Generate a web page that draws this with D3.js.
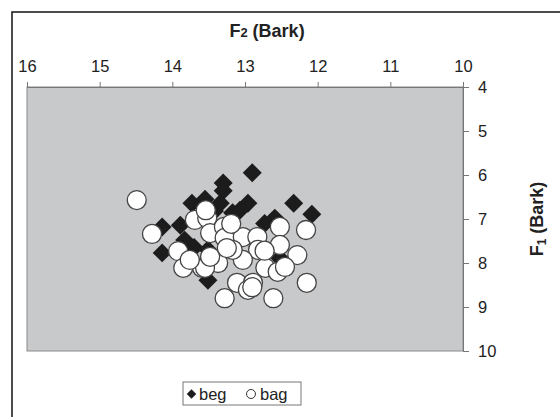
<!DOCTYPE html>
<html>
<head>
<meta charset="utf-8">
<script src="https://cdn.jsdelivr.net/npm/d3@7"></script>
<style>
  body { margin: 0; background: #fff; }
  svg text { font-family: "Liberation Sans", Arial, sans-serif; fill: #222; }
</style>
</head>
<body>
<div id="chart"></div>
<script>
// F2 (Bark), F1 (Bark)
var begF2 = [12.90, 13.30, 13.30, 12.96, 12.33, 12.08, 12.59, 13.34, 13.73, 13.89,
             14.14, 14.14, 13.51, 13.51, 12.52, 13.17, 13.83, 13.07, 13.55, 13.42, 12.73, 13.70];
var begF1 = [5.95, 6.18, 6.36, 6.64, 6.64, 6.89, 6.98, 6.64, 6.64, 7.14,
             7.18, 7.77, 7.70, 8.39, 7.89, 6.86, 7.48, 6.80, 6.55, 6.82, 7.10, 7.65];

var bagF2 = [14.49, 14.28, 13.92, 13.85, 13.59, 13.69, 13.52, 13.54, 13.48, 13.29,
             13.28, 13.03, 12.83, 12.52, 12.16, 12.52, 12.82, 12.28, 13.03, 13.37,
             13.55, 12.72, 12.55, 12.45, 13.11, 12.89, 12.96, 13.28, 12.61, 12.15,
             13.17, 13.48, 13.76, 13.19, 13.25, 12.73, 12.90];
var bagF1 = [6.57, 7.34, 7.73, 8.11, 8.11, 7.02, 6.98, 6.80, 7.32, 7.18,
             7.43, 7.41, 7.41, 7.18, 7.25, 7.59, 7.70, 7.82, 7.93, 8.00,
             8.11, 8.11, 8.20, 8.09, 8.45, 8.45, 8.61, 8.80, 8.80, 8.45,
             7.70, 7.86, 7.93, 7.11, 7.66, 7.72, 8.55];

var f2Ticks = [16, 15, 14, 13, 12, 11, 10];
var f1Ticks = [4, 5, 6, 7, 8, 9, 10];
var legendItems = [["beg", "diamond"], ["bag", "circle"]];

var W = 560, H = 417;
var plot = {left: 27, right: 463, top: 87, bottom: 351};

var svg = d3.select("#chart").append("svg")
  .attr("width", W)
  .attr("height", H);

// outer frame (runs off the right and bottom)
svg.append("rect")
  .attr("x", 12).attr("y", 12)
  .attr("width", 600).attr("height", 500)
  .attr("fill", "none")
  .attr("stroke", "#111")
  .attr("stroke-width", 1.5);

var x = d3.scaleLinear().domain([16, 10]).range([plot.left, plot.right]);
var y = d3.scaleLinear().domain([4, 10]).range([plot.top, plot.bottom]);

svg.append("rect")
  .attr("x", plot.left).attr("y", plot.top)
  .attr("width", plot.right - plot.left)
  .attr("height", plot.bottom - plot.top)
  .attr("fill", "#c8c9cb")
  .attr("stroke", "#8a8a8a")
  .attr("stroke-width", 1);

var xAxis = d3.axisTop(x).tickValues(f2Ticks).tickSize(5).tickPadding(10).tickFormat(d3.format("d"));
var yAxis = d3.axisRight(y).tickValues(f1Ticks).tickSize(6).tickPadding(9).tickFormat(d3.format("d"));

var gx = svg.append("g")
  .attr("transform", "translate(0," + plot.top + ")")
  .call(xAxis);
var gy = svg.append("g")
  .attr("transform", "translate(" + plot.right + ",0)")
  .call(yAxis);

[gx, gy].forEach(function(g) {
  g.select(".domain").attr("stroke", "#777");
  g.selectAll(".tick line").attr("stroke", "#777");
  g.selectAll(".tick text")
    .style("font-family", "'Liberation Sans', Arial, sans-serif")
    .style("font-size", "16.5px")
    .attr("fill", "#222");
});

// axis titles
var tx = svg.append("text")
  .attr("x", 267).attr("y", 37)
  .attr("text-anchor", "middle")
  .style("font-size", "18px")
  .style("font-weight", "bold");
tx.append("tspan").text("F");
tx.append("tspan").text("2").style("font-size", "13px");
tx.append("tspan").text(" (Bark)");

var ty = svg.append("text")
  .attr("transform", "translate(543,219) rotate(-90)")
  .attr("text-anchor", "middle")
  .style("font-size", "18px")
  .style("font-weight", "bold");
ty.append("tspan").text("F");
ty.append("tspan").text("1").style("font-size", "12px").attr("dy", 3);
ty.append("tspan").text(" (Bark)").attr("dy", -3);

// points
var diamond = d3.symbol().type(d3.symbolSquare).size(180);

var beg = begF2.map(function(d, i) { return {f2: d, f1: begF1[i]}; });
var bag = bagF2.map(function(d, i) { return {f2: d, f1: bagF1[i]}; });

svg.append("g").selectAll("path")
  .data(beg)
  .enter().append("path")
  .attr("d", diamond)
  .attr("transform", d => "translate(" + x(d.f2) + "," + y(d.f1) + ") rotate(45)")
  .attr("fill", "#1c1c1c");

svg.append("g").selectAll("circle")
  .data(bag)
  .enter().append("circle")
  .attr("cx", d => x(d.f2))
  .attr("cy", d => y(d.f1))
  .attr("r", 9.5)
  .attr("fill", "#fff")
  .attr("stroke", "#444")
  .attr("stroke-width", 1.3);

// legend
var lg = svg.append("g").attr("transform", "translate(183,382)");
lg.append("rect")
  .attr("width", 118).attr("height", 23)
  .attr("fill", "#fff")
  .attr("stroke", "#777");

lg.append("path")
  .attr("d", d3.symbol().type(d3.symbolSquare).size(45))
  .attr("transform", "translate(8.5,12) rotate(45)")
  .attr("fill", "#1c1c1c");
lg.append("text").attr("x", 16).attr("y", 18).style("font-size", "16.5px").text(legendItems[0][0]);

lg.append("circle")
  .attr("cx", 68).attr("cy", 12).attr("r", 4.5)
  .attr("fill", "#fff").attr("stroke", "#333");
lg.append("text").attr("x", 77).attr("y", 18).style("font-size", "16.5px").text(legendItems[1][0]);
</script>
</body>
</html>
